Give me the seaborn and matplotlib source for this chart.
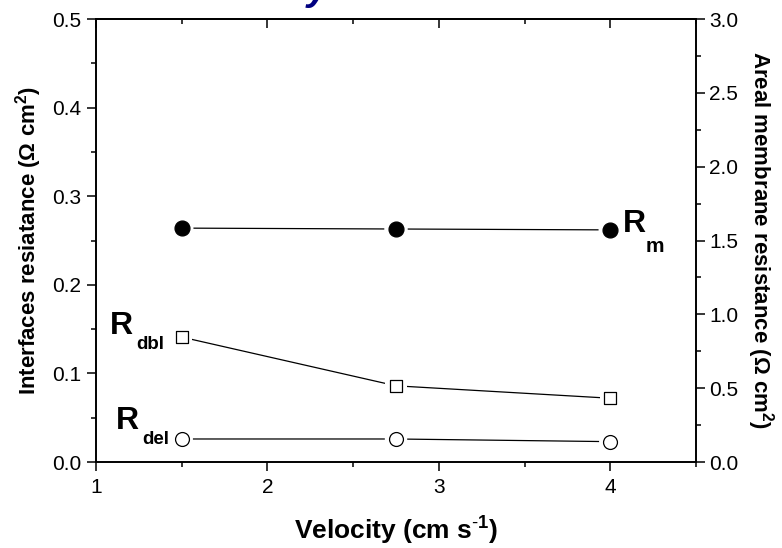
import matplotlib
matplotlib.use("Agg")
import matplotlib.pyplot as plt
from matplotlib.ticker import MultipleLocator, FormatStrFormatter
import seaborn as sns
import pandas as pd

# ---- data ----
velocity = [1.5, 2.75, 4.0]
r_m = [1.584, 1.578, 1.572]      # right axis (areal membrane resistance)
r_dbl = [0.141, 0.086, 0.072]    # left axis
r_del = [0.026, 0.026, 0.023]    # left axis
x_ticks = [1, 2, 3, 4]

sns.set_theme(style="ticks")
plt.rcParams["font.family"] = ["Liberation Sans", "DejaVu Sans"]
plt.rcParams["mathtext.fontset"] = "custom"
plt.rcParams["mathtext.rm"] = "Liberation Sans"
plt.rcParams["mathtext.bf"] = "Liberation Sans:bold"
plt.rcParams["mathtext.it"] = "Liberation Sans:italic"
plt.rcParams["axes.linewidth"] = 1.2
for k in ("text.color", "axes.labelcolor", "xtick.color", "ytick.color",
          "axes.edgecolor"):
    plt.rcParams[k] = "black"

fig = plt.figure(figsize=(7.82, 5.48), dpi=100)
ax = fig.add_axes([0.1228, 0.1569, 0.7672, 0.8084])
ax2 = ax.twinx()

df_m = pd.DataFrame({"v": velocity, "r": r_m})
df_dbl = pd.DataFrame({"v": velocity, "r": r_dbl})
df_del = pd.DataFrame({"v": velocity, "r": r_del})

def draw(axis, df, marker, face, size, halo):
    sns.lineplot(data=df, x="v", y="r", ax=axis, color="black", lw=0.9,
                 zorder=2, legend=False)
    sns.scatterplot(data=df, x="v", y="r", ax=axis, marker=marker, s=halo,
                    color="white", edgecolor="none", linewidth=0, zorder=3,
                    legend=False)
    sns.scatterplot(data=df, x="v", y="r", ax=axis, marker=marker, s=size,
                    color=face, edgecolor="black", linewidth=0.9, zorder=4,
                    legend=False)

draw(ax, df_dbl, "s", "white", 80, 240)
draw(ax, df_del, "o", "white", 100, 260)
draw(ax2, df_m, "o", "black", 115, 285)

# axes ranges / ticks
ax.set_xlim(1, 4.5)
ax2.set_xlim(1, 4.5)
ax.set_ylim(0, 0.5)
ax2.set_ylim(0, 3.0)
ax.set_xticks(x_ticks)
ax.xaxis.set_minor_locator(MultipleLocator(0.5))
ax.yaxis.set_major_locator(MultipleLocator(0.1))
ax.yaxis.set_minor_locator(MultipleLocator(0.05))
ax2.yaxis.set_major_locator(MultipleLocator(0.5))
ax2.yaxis.set_minor_locator(MultipleLocator(0.25))
ax.yaxis.set_major_formatter(FormatStrFormatter("%.1f"))
ax2.yaxis.set_major_formatter(FormatStrFormatter("%.1f"))

for a in (ax, ax2):
    a.tick_params(which="major", direction="out", length=6.5, width=1.1,
                  labelsize=15, pad=4, colors="black")
    a.tick_params(which="minor", direction="out", length=3.5, width=1.1)
    for s in a.spines.values():
        s.set_visible(True)
        s.set_linewidth(1.2)
        s.set_color("black")

ax.tick_params(axis="x", pad=5)
ax2.tick_params(axis="y", pad=3)

top = ax.secondary_xaxis("top")
top.set_xticks(x_ticks)
top.xaxis.set_minor_locator(MultipleLocator(0.5))
top.tick_params(which="major", direction="in", length=6.5, width=1.1,
                labeltop=False)
top.tick_params(which="minor", direction="in", length=3.5, width=1.1)
top.spines["top"].set_linewidth(1.2)

ax.set_xlabel("Velocity (cm s$^{\\mathbf{\\text{-}1}}$)", fontsize=19,
              fontweight="bold", labelpad=13)
ax.set_ylabel("Interfaces resiatance ($\\mathbf{\\Omega}$ cm$^{\\mathbf{2}}$)",
              fontsize=16, fontweight="bold", labelpad=6)
ax2.set_ylabel("Areal membrane resistance ($\\mathbf{\\Omega}$ cm$^{\\mathbf{2}}$)",
               fontsize=16, fontweight="bold", rotation=270, labelpad=27)

# series annotations
def label(axis, x, y, main, sub, dmain, dsub, ha, subsize=13.5):
    axis.annotate(main, (x, y), xytext=dmain, textcoords="offset pixels",
                  ha=ha, va="baseline", fontsize=23, fontweight="bold")
    axis.annotate(sub, (x, y), xytext=dsub, textcoords="offset pixels",
                  ha=ha, va="baseline", fontsize=subsize, fontweight="bold")

label(ax, velocity[0], r_dbl[0], "R", "dbl", (-49, 3), (-17, -12), "right")
label(ax, velocity[0], r_del[0], "R", "del", (-43, 10), (-12, -5), "right")
label(ax2, velocity[-1], r_m[-1], "R", "m", (13, -2), (35, -22), "left",
      subsize=15)

# clipped title fragment at top edge
fig.text(317 / 782, 1.0, "y", color="#000080", fontsize=28,
         fontweight="bold", fontstyle="italic", ha="center", va="baseline")

fig.savefig("out.png", dpi=100)
